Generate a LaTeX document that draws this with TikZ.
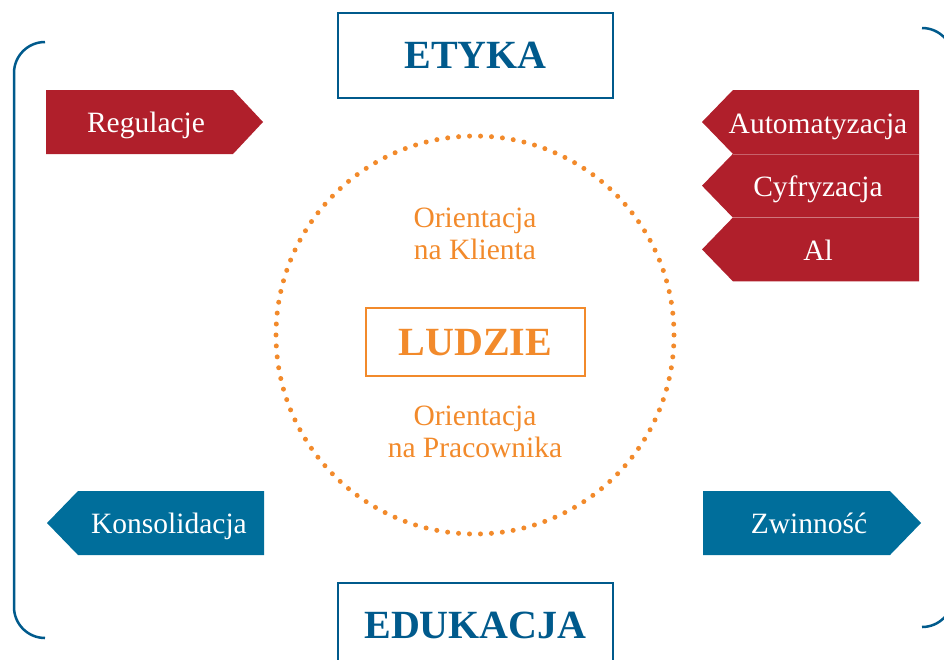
\documentclass[tikz,border=0pt]{standalone}
\usepackage{fontspec}
\setmainfont{Liberation Serif}
\definecolor{etykablue}{RGB}{0,90,140}
\definecolor{arrowblue}{RGB}{0,110,155}
\definecolor{arrowred}{RGB}{176,31,43}
\definecolor{ludzieorange}{RGB}{242,138,43}
\tikzset{
  textnode/.style = {align=center, inner sep=0pt, text centered, font=\fontsize{29.5}{31.5}\selectfont},
  % title boxes: blue frame, bold caps
  box_T/.style = {draw=etykablue, line width=2.2pt, text=etykablue, inner sep=0pt,
    minimum width=275pt, minimum height=85pt, text height=26.5pt, text depth=0pt,
    font=\fontsize{40}{40}\selectfont\bfseries},
  box_L/.style = {box_T, draw=ludzieorange, text=ludzieorange, minimum width=219pt, minimum height=68pt},
  % white text on the arrows, set on its baseline
  label_W/.style = {textnode, text=white, anchor=base},
  label_O/.style = {textnode, text=ludzieorange},
  arr_R/.style = {fill=arrowred},
  arr_B/.style = {fill=arrowblue},
  bracket/.style = {draw=etykablue, line width=2.5pt, rounded corners=31pt}
%   dots/.style = {draw=ludzieorange}
}
\begin{document}
\begin{tikzpicture}[x=1pt,y=-1pt]
    \useasboundingbox (0,0) rectangle (944,659);
    % Brackets:
    \draw[bracket] (45,42) -- (14,42) -- (14,638) -- (45,638);
    \draw[bracket] (922,28) -- (953,28) -- (953,627) -- (922,627);
    % Title boxes:
    \node [box_T] (etyka) at (475.5,55.5) {ETYKA};
    \node [box_T] (edukacja) at (475.5,625.5) {EDUKACJA};
    % People circle:
    \draw[ludzieorange, line width=5pt, line cap=round, dash pattern=on 0pt off 10.97pt] (475,335) circle (199);
    \node [box_L] (ludzie) at (475.5,342) {LUDZIE};
    \node [label_O] (klient) at (475,234) {Orientacja\\na Klienta};
    \node [label_O] (pracownik) at (475,432) {Orientacja\\na Pracownika};
    % Left arrows:
    \fill[arr_R] (46,90) -- (233,90) -- (263,122) -- (233,154) -- (46,154) -- cycle;
    \node [label_W] (regulacje) at (146,132) {Regulacje};
    \fill[arr_B] (264,491) -- (78,491) -- (47,523) -- (78,555) -- (264,555) -- cycle;
    \node [label_W] (konsolidacja) at (169,533) {Konsolidacja};
    % Right arrows:
    \foreach \name/\txt [count=\i from 0] in {automat/Automatyzacja, cyfr/Cyfryzacja, al/Al}{
      \fill[arr_R] (919,{90+63.7*\i}) -- (733,{90+63.7*\i}) -- (702,{122+63.7*\i})
                   -- (733,{154+63.7*\i}) -- (919,{154+63.7*\i}) -- cycle;
      \node [label_W] (\name) at (818,{133+63.5*\i}) {\txt};
    }
    \foreach \y in {154,217.4}
      \draw[white, opacity=.3, line width=.6pt] (733,\y) -- (919,\y);
    \fill[arr_B] (703,491) -- (890,491) -- (921,523) -- (890,555) -- (703,555) -- cycle;
    \node [label_W] (zwinnosc) at (809,533) {Zwinność};
\end{tikzpicture}
\end{document}
